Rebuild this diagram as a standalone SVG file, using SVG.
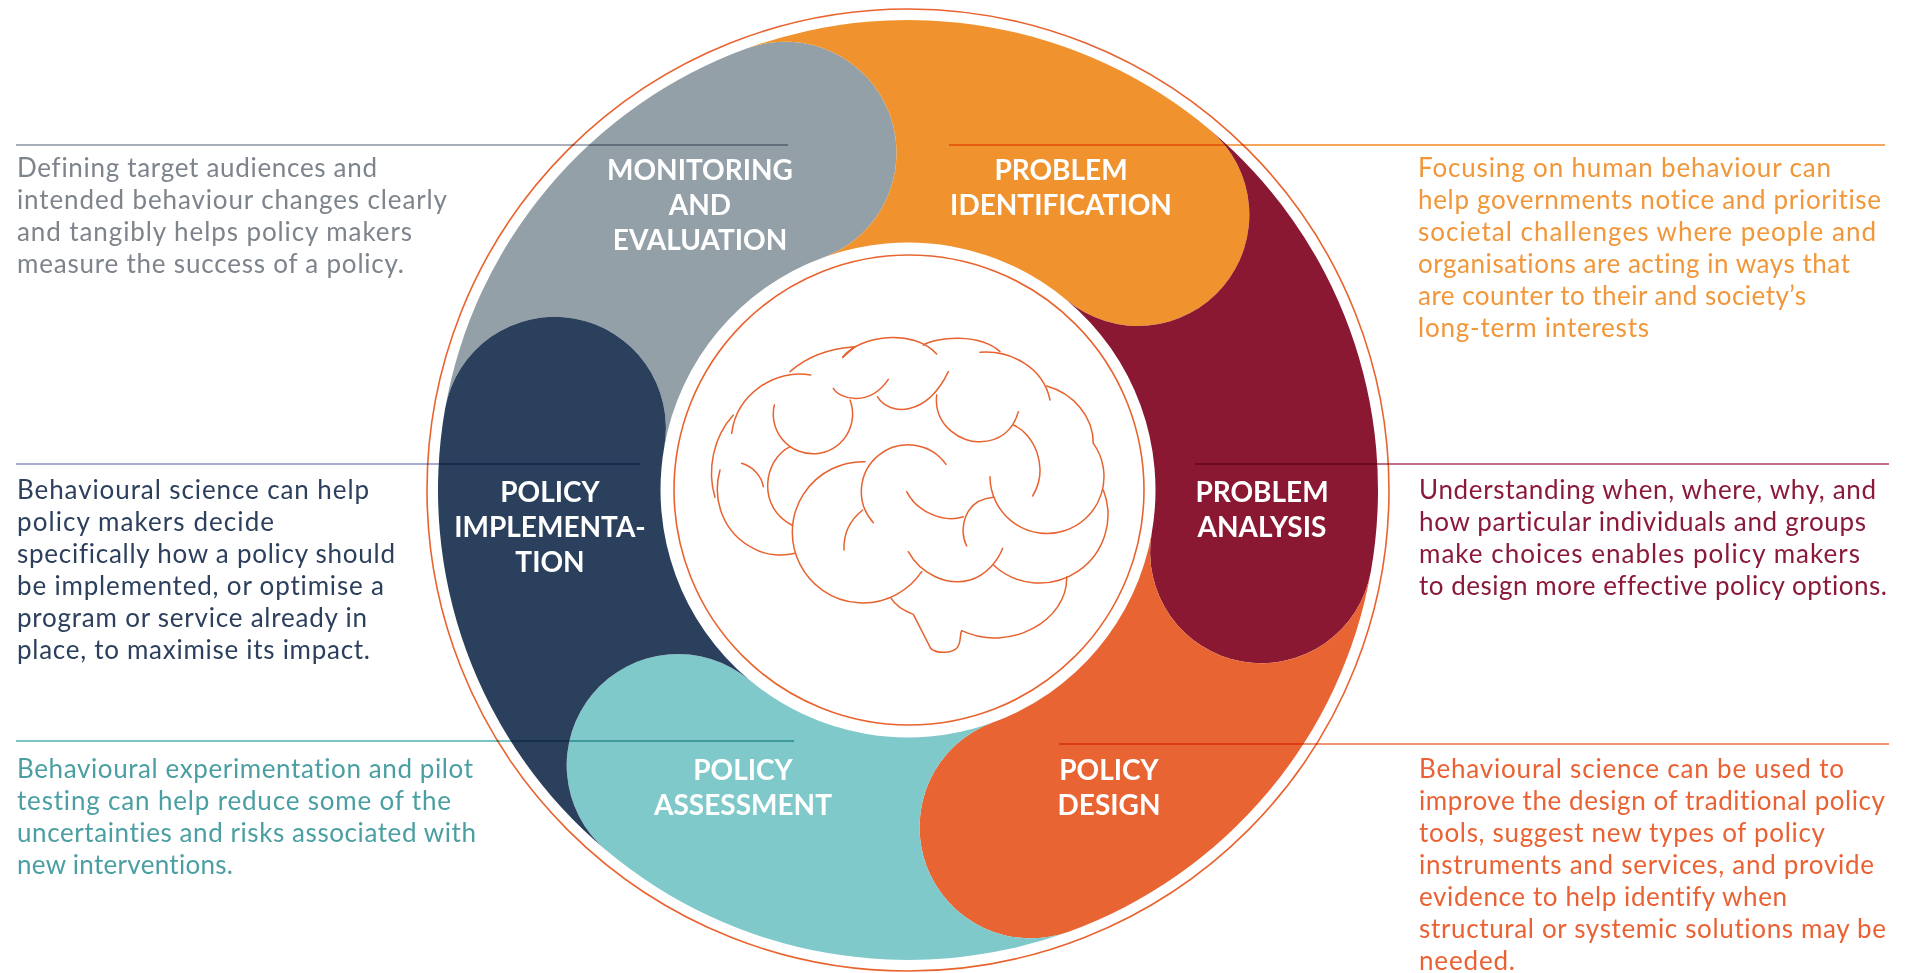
<svg xmlns="http://www.w3.org/2000/svg" width="1907" height="973" viewBox="0 0 1907 973">
<style>
.body{font-family:Lato,"Liberation Sans",sans-serif;font-size:26px;font-variant-ligatures:none;}
.lbl{font-family:Lato,"Liberation Sans",sans-serif;font-size:28px;font-weight:700;fill:#ffffff;text-anchor:middle;font-variant-ligatures:none;}
.rule{stroke-width:2;mix-blend-mode:multiply;fill:none;}
.brain{fill:none;stroke:#e8622f;stroke-width:4.5;stroke-linecap:round;}
</style>
<rect width="1907" height="973" fill="#ffffff"/>
<circle id="outer-ring" cx="908" cy="490" r="481" fill="none" stroke="#e9632f" stroke-width="1.6"/>

<g id="monitoring-evaluation">
<path d="M445.14,408.39 A470,470 0 0 1 747.25,48.34 A111.25,111.25 0 0 1 823.35,257.43 A247.5,247.5 0 0 0 664.26,447.02 A111.25,111.25 0 0 0 445.14,408.39 Z" fill="#94a0a8"/>
<text class="lbl" x="700" y="180">MONITORING</text>
<text class="lbl" x="700" y="215">AND</text>
<text class="lbl" x="700" y="250">EVALUATION</text>
</g>
<g id="problem-identification">
<path d="M747.25,48.34 A470,470 0 0 1 1210.11,129.96 A111.25,111.25 0 0 1 1067.09,300.40 A247.5,247.5 0 0 0 823.35,257.43 A111.25,111.25 0 0 0 747.25,48.34 Z" fill="#f0932f"/>
<text class="lbl" x="1061" y="180">PROBLEM</text>
<text class="lbl" x="1061" y="215">IDENTIFICATION</text>
</g>
<g id="problem-analysis">
<path d="M1210.11,129.96 A470,470 0 0 1 1370.86,571.61 A111.25,111.25 0 0 1 1151.74,532.98 A247.5,247.5 0 0 0 1067.09,300.40 A111.25,111.25 0 0 0 1210.11,129.96 Z" fill="#8b1832"/>
<text class="lbl" x="1262" y="502">PROBLEM</text>
<text class="lbl" x="1262" y="537">ANALYSIS</text>
</g>
<g id="policy-design">
<path d="M1370.86,571.61 A470,470 0 0 1 1068.75,931.66 A111.25,111.25 0 0 1 992.65,722.57 A247.5,247.5 0 0 0 1151.74,532.98 A111.25,111.25 0 0 0 1370.86,571.61 Z" fill="#e96433"/>
<text class="lbl" x="1109" y="780">POLICY</text>
<text class="lbl" x="1109" y="815">DESIGN</text>
</g>
<g id="policy-assessment">
<path d="M1068.75,931.66 A470,470 0 0 1 605.89,850.04 A111.25,111.25 0 0 1 748.91,679.60 A247.5,247.5 0 0 0 992.65,722.57 A111.25,111.25 0 0 0 1068.75,931.66 Z" fill="#80c9cb"/>
<text class="lbl" x="743" y="780">POLICY</text>
<text class="lbl" x="743" y="815">ASSESSMENT</text>
</g>
<g id="policy-implementation">
<path d="M605.89,850.04 A470,470 0 0 1 445.14,408.39 A111.25,111.25 0 0 1 664.26,447.02 A247.5,247.5 0 0 0 748.91,679.60 A111.25,111.25 0 0 0 605.89,850.04 Z" fill="#2b405d"/>
<text class="lbl" x="550" y="502">POLICY</text>
<text class="lbl" x="550" y="537">IMPLEMENTA-</text>
<text class="lbl" x="550" y="572">TION</text>
</g>

<g id="brain-centre">
<circle cx="909" cy="490" r="235" fill="#ffffff" stroke="#e9632f" stroke-width="1.6"/>
<g class="brain" transform="translate(680 300) scale(0.33333)">
<path d="M330,215 C380,170 450,145 525,140 L488,172"/>
<path d="M488,172 C540,105 700,85 770,162"/>
<path d="M730,135 C770,110 900,100 960,155"/>
<path d="M900,157 C990,150 1090,200 1110,300"/>
<path d="M1100,258 C1180,280 1240,350 1240,430"/>
<path d="M1240,430 A171,171 0 1 1 930,530"/>
<path d="M1270,570 A205,205 0 0 1 940,795"/>
<path d="M1160,830 C1165,960 990,1060 845,992"/>
<path d="M845,992 C838,1005 845,1030 830,1045 C815,1060 770,1062 752,1045 L700,943 C665,930 645,915 632,893"/>
<path d="M725,815 A212,212 0 1 1 555,485"/>
<path d="M105,592 C80,510 100,410 160,345"/>
<path d="M155,400 C170,280 290,205 392,225"/>
<path d="M120,510 C95,600 130,700 220,745 C260,768 310,768 345,760"/>
<path d="M283,315 A119,119 0 1 0 510,300"/>
<path d="M460,265 C480,300 570,320 625,238"/>
<path d="M592,290 C630,350 740,350 805,215"/>
<path d="M770,285 C760,380 850,430 900,425 C960,425 1000,390 1015,335"/>
<path d="M1000,375 C1060,400 1110,500 1058,588"/>
<path d="M330,440 C250,480 230,620 335,675"/>
<path d="M185,490 C220,500 245,530 250,560"/>
<path d="M580,668 A140,140 0 1 1 798,493"/>
<path d="M680,575 C710,635 790,670 850,650"/>
<path d="M860,738 C835,690 850,600 940,592"/>
<path d="M548,630 C510,660 490,700 492,750"/>
<path d="M685,755 C720,820 800,860 870,840 C920,825 955,780 968,745"/>
</g>
</g>

<g id="connectors">
<line class="rule" x1="16" y1="145" x2="788" y2="145" stroke="#a9afba"/>
<line class="rule" x1="949" y1="145" x2="1885" y2="145" stroke="#f5a55c"/>
<line class="rule" x1="16" y1="464" x2="640" y2="464" stroke="#aaadd2"/>
<line class="rule" x1="1195" y1="464" x2="1889" y2="464" stroke="#bf7088"/>
<line class="rule" x1="16" y1="741" x2="794" y2="741" stroke="#7cc4c3"/>
<line class="rule" x1="1059" y1="744" x2="1889" y2="744" stroke="#f29470"/>
</g>

<g id="text-monitoring" class="body" fill="#7d848c">
<text x="17" y="177" textLength="360">Defining target audiences and</text>
<text x="17" y="209" textLength="430">intended behaviour changes clearly</text>
<text x="17" y="241" textLength="395">and tangibly helps policy makers</text>
<text x="17" y="273" textLength="387">measure the success of a policy.</text>
</g>
<g id="text-identification" class="body" fill="#f1973a">
<text x="1418" y="177" textLength="413">Focusing on human behaviour can</text>
<text x="1418" y="209" textLength="463">help governments notice and prioritise</text>
<text x="1418" y="241" textLength="458">societal challenges where people and</text>
<text x="1418" y="273" textLength="432">organisations are acting in ways that</text>
<text x="1418" y="305" textLength="388">are counter to their and society’s</text>
<text x="1418" y="337" textLength="231">long-term interests</text>
</g>
<g id="text-implementation" class="body" fill="#2c3f5c">
<text x="17" y="499" textLength="352">Behavioural science can help</text>
<text x="17" y="531" textLength="257">policy makers decide</text>
<text x="17" y="563" textLength="378">specifically how a policy should</text>
<text x="17" y="595" textLength="367">be implemented, or optimise a</text>
<text x="17" y="627" textLength="350">program or service already in</text>
<text x="17" y="659" textLength="353">place, to maximise its impact.</text>
</g>
<g id="text-analysis" class="body" fill="#8b1a3a">
<text x="1419" y="499" textLength="457">Understanding when, where, why, and</text>
<text x="1419" y="531" textLength="447">how particular individuals and groups</text>
<text x="1419" y="563" textLength="441">make choices enables policy makers</text>
<text x="1419" y="595" textLength="468">to design more effective policy options.</text>
</g>
<g id="text-assessment" class="body" fill="#4b9fa2">
<text x="17" y="778" textLength="456">Behavioural experimentation and pilot</text>
<text x="17" y="810" textLength="434">testing can help reduce some of the</text>
<text x="17" y="842" textLength="459">uncertainties and risks associated with</text>
<text x="17" y="874" textLength="216">new interventions.</text>
</g>
<g id="text-design" class="body" fill="#ea6234">
<text x="1419" y="778" textLength="425">Behavioural science can be used to</text>
<text x="1419" y="810" textLength="466">improve the design of traditional policy</text>
<text x="1419" y="842" textLength="406">tools, suggest new types of policy</text>
<text x="1419" y="874" textLength="455">instruments and services, and provide</text>
<text x="1419" y="906" textLength="368">evidence to help identify when</text>
<text x="1419" y="938" textLength="467">structural or systemic solutions may be</text>
<text x="1419" y="970" textLength="96">needed.</text>
</g>
</svg>
